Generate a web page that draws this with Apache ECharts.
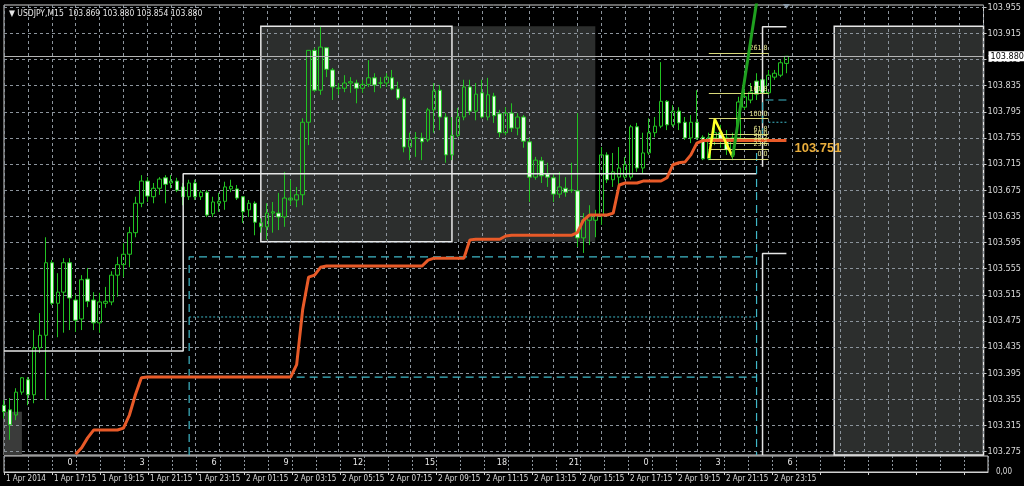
<!DOCTYPE html>
<html><head><meta charset="utf-8">
<script src="https://cdn.jsdelivr.net/npm/echarts@6/dist/echarts.min.js"></script>
<style>html,body{margin:0;padding:0;background:#000;}#c{width:1024px;height:486px;}</style>
</head><body><div id="c"></div>
<script>
const FONT = "'Liberation Sans Narrow','DejaVu Sans Condensed','Liberation Sans',sans-serif";
const SLOTS = 165;
const timeLabels = ['1 Apr 2014','1 Apr 17:15','1 Apr 19:15','1 Apr 21:15','1 Apr 23:15','2 Apr 01:15','2 Apr 03:15','2 Apr 05:15','2 Apr 07:15','2 Apr 09:15','2 Apr 11:15','2 Apr 13:15','2 Apr 15:15','2 Apr 17:15','2 Apr 19:15','2 Apr 21:15','2 Apr 23:15'];
const hourLabels = ['0','3','6','9','12','15','18','21','0','3','6'];
const priceTicks = [103.275,103.315,103.355,103.395,103.435,103.475,103.515,103.555,103.595,103.635,103.675,103.715,103.755,103.795,103.835,103.875,103.915,103.955];

const openP = [103.346,103.339,103.331,103.366,103.385,103.362,103.434,103.453,103.564,103.502,
103.519,103.564,103.507,103.478,103.539,103.507,103.472,103.502,103.504,103.545,
103.561,103.577,103.610,103.655,103.689,103.665,103.678,103.694,103.686,103.689,
103.680,103.665,103.686,103.665,103.672,103.639,103.655,103.658,103.677,103.677,
103.665,103.645,103.655,103.619,103.619,103.640,103.640,103.634,103.660,103.660,
103.668,103.779,103.889,103.828,103.893,103.859,103.831,103.831,103.839,103.839,
103.831,103.837,103.847,103.839,103.839,103.847,103.830,103.815,103.741,103.755,
103.755,103.752,103.798,103.828,103.787,103.729,103.759,103.787,103.833,103.796,
103.824,103.787,103.819,103.792,103.763,103.793,103.770,103.787,103.749,103.695,
103.720,103.700,103.694,103.669,103.678,103.675,103.674,103.602,103.629,103.629,
103.637,103.729,103.691,103.695,103.695,103.695,103.772,103.709,103.732,103.763,
103.773,103.811,103.775,103.796,103.779,103.755,103.779,103.756,103.723,103.755,
103.763,103.755,103.729,103.755,103.802,103.813,103.842,103.844,103.824,103.848,
103.851,103.869];
const closeP = [103.336,103.316,103.366,103.388,103.362,103.434,103.453,103.564,103.502,103.519,
103.564,103.510,103.476,103.538,103.505,103.472,103.504,103.505,103.545,103.561,
103.577,103.610,103.655,103.689,103.666,103.678,103.692,103.684,103.689,103.675,
103.665,103.686,103.665,103.672,103.637,103.657,103.658,103.680,103.681,103.663,
103.642,103.655,103.626,103.625,103.640,103.642,103.634,103.663,103.663,103.668,
103.779,103.889,103.828,103.894,103.860,103.833,103.831,103.839,103.841,103.831,
103.837,103.847,103.836,103.839,103.848,103.830,103.816,103.741,103.752,103.755,
103.749,103.798,103.827,103.787,103.729,103.759,103.787,103.833,103.796,103.822,
103.787,103.821,103.789,103.763,103.793,103.770,103.787,103.750,103.695,103.721,
103.697,103.695,103.669,103.680,103.672,103.675,103.602,103.629,103.636,103.637,
103.729,103.691,103.703,103.709,103.714,103.772,103.709,103.732,103.763,103.773,
103.811,103.775,103.796,103.778,103.755,103.779,103.755,103.723,103.756,103.763,
103.752,103.737,103.755,103.810,103.818,103.825,103.822,103.824,103.851,103.854,
103.870,103.880];
const lowP = [103.326,103.293,103.323,103.362,103.346,103.349,103.426,103.354,103.499,103.450,
103.457,103.461,103.458,103.461,103.496,103.461,103.457,103.495,103.499,103.512,
103.542,103.557,103.603,103.649,103.657,103.655,103.668,103.655,103.678,103.672,
103.652,103.660,103.660,103.660,103.634,103.634,103.642,103.645,103.672,103.660,
103.625,103.634,103.606,103.610,103.599,103.610,103.614,103.619,103.652,103.649,
103.652,103.744,103.825,103.821,103.848,103.813,103.821,103.825,103.824,103.808,
103.824,103.833,103.825,103.831,103.833,103.828,103.813,103.733,103.721,103.726,
103.721,103.749,103.763,103.767,103.717,103.721,103.756,103.782,103.790,103.782,
103.785,103.782,103.778,103.756,103.759,103.764,103.759,103.740,103.657,103.691,
103.686,103.680,103.657,103.663,103.665,103.671,103.588,103.579,103.591,103.603,
103.622,103.686,103.680,103.680,103.691,103.691,103.703,103.701,103.729,103.756,
103.770,103.767,103.772,103.767,103.752,103.747,103.752,103.721,103.721,103.744,
103.740,103.729,103.721,103.752,103.798,103.808,103.813,103.802,103.821,103.844,
103.848,103.854];
const highP = [103.354,103.357,103.372,103.389,103.389,103.461,103.487,103.603,103.568,103.548,
103.571,103.571,103.515,103.545,103.556,103.519,103.518,103.527,103.551,103.573,
103.594,103.619,103.665,103.698,103.695,103.686,103.695,103.698,103.698,103.694,
103.686,103.691,103.691,103.675,103.675,103.665,103.671,103.688,103.691,103.683,
103.665,103.660,103.658,103.632,103.655,103.657,103.671,103.703,103.691,103.680,
103.785,103.889,103.893,103.925,103.894,103.862,103.839,103.851,103.848,103.844,
103.844,103.874,103.854,103.848,103.854,103.859,103.841,103.818,103.763,103.764,
103.763,103.801,103.839,103.836,103.793,103.787,103.801,103.844,103.844,103.839,
103.844,103.847,103.824,103.798,103.802,103.808,103.793,103.790,103.755,103.726,
103.726,103.717,103.701,103.703,103.695,103.717,103.793,103.640,103.652,103.645,
103.741,103.733,103.732,103.741,103.726,103.775,103.778,103.763,103.785,103.787,
103.871,103.813,103.805,103.802,103.787,103.790,103.828,103.759,103.763,103.775,
103.775,103.767,103.763,103.818,103.828,103.839,103.854,103.854,103.859,103.859,
103.874,103.880];
const trailStop = [null,null,null,null,null,null,null,null,null,null,null,null,
103.271,103.281,103.296,103.308,103.308,103.308,103.308,103.308,103.311,103.331,103.362,103.388,
103.389,103.389,103.389,103.389,103.389,103.389,103.389,103.389,103.389,103.389,103.389,103.389,103.389,
103.389,103.389,103.389,103.389,103.389,103.389,103.389,103.389,103.389,103.389,103.389,103.389,
103.408,103.492,103.542,103.545,103.557,
103.559,103.559,103.559,103.559,103.559,103.559,103.559,103.559,103.559,103.559,103.559,103.559,103.559,103.559,103.559,103.559,103.559,
103.568,103.571,103.571,103.571,103.571,103.571,103.571,103.599,103.600,103.600,103.600,103.600,103.600,103.605,
103.606,103.606,103.606,103.606,103.606,103.606,103.606,103.606,103.606,103.606,103.606,
103.610,103.629,103.637,103.637,103.637,103.637,103.640,103.683,103.686,103.686,103.686,
103.689,103.689,103.689,103.689,103.694,103.714,103.717,103.718,103.729,103.747,
103.751,103.751,103.751,103.751,103.751,103.751,103.751,103.751,103.751,103.751,103.751,103.751,103.751,103.751,103.751];
const bidPrice = 103.880;
const fibNames = ['0.0','23.6','38.2','50.0','61.8','100.0','161.8','261.8'];
const fibPrices = [103.723,103.738,103.747,103.754,103.761,103.785,103.823,103.885];
const zigzag = [[118,103.724],[119,103.784],[122,103.726]];
const trendLine = [[122,103.726],[126,103.962]];
const whiteLines = [
  [[0,103.429],[30,103.429],[30,103.700],[126,103.700]],
  [[131,103.925],[127,103.925],[127,103.711]],
  [[131,103.578],[127,103.578],[127,103.2698]]
];
const cyanDashed = [
  [[31,103.2698],[31,103.573],[126,103.573]],
  [[49,103.389],[126,103.389]],
  [[126,103.732],[126,103.2698]],
  [[131,103.813],[127,103.813],[127,103.755]]
];
const cyanDotted = [
  [[31,103.481],[126,103.481]],
  [[131,103.779],[128,103.779]]
];
const grayZones = [[[43,103.926],[99,103.596]],[[0,103.336],[3,103.2698]]];
const framedZones = [[[43,103.926],[75,103.596],'rgba(0,0,0,0)'],[[139,103.926],[164,103.2698],'#2c2e2d']];

const categories = Array.from({length: SLOTS}, (_, i) => String(i));
const candles = openP.map((o, i) => [o, closeP[i], lowP[i], highP[i]]);

const markAreaData = grayZones.map(z => [
  {xAxis: z[0][0], yAxis: z[0][1], itemStyle: {color: z === grayZones[1] ? '#3a3b3a' : '#2c2e2d'}},
  {xAxis: z[1][0], yAxis: z[1][1]}
]).concat(framedZones.map(z => [
  {xAxis: z[0][0], yAxis: z[0][1], itemStyle: {color: z[2], borderColor: '#e8e8e8', borderWidth: 1.5}},
  {xAxis: z[1][0], yAxis: z[1][1]}
]));

function lineSeries(data, color, width, type, z) {
  return {type: 'line', xAxisIndex: 0, yAxisIndex: 0, data: data, symbol: 'none', silent: true,
    lineStyle: {color: color, width: width, type: type}, z: z, animation: false};
}

const series = [
  {
    type: 'candlestick', xAxisIndex: 0, yAxisIndex: 0, data: candles, barWidth: 4, z: 2,
    itemStyle: {color: 'rgba(0,0,0,0)', color0: '#e4ffe4', borderColor: '#22c322', borderColor0: '#22c322', borderColorDoji: '#22c322', borderWidth: 1},
    markArea: {silent: true, label: {show: false}, data: markAreaData},
    markLine: {silent: true, symbol: ['none', 'none'], animation: false,
      lineStyle: {color: '#b4b4b4', type: 'solid', width: 1},
      label: {show: true, position: 'end', formatter: bidPrice.toFixed(3), backgroundColor: '#ffffff', color: '#000000', fontSize: 9, fontFamily: FONT, padding: [1, 2, 0, 2], distance: 5},
      data: [{yAxis: bidPrice}]},
    markPoint: {silent: true, symbol: 'triangle', symbolRotate: 180, symbolSize: [7, 5], itemStyle: {color: '#8a9aa8'}, label: {show: false},
      data: [{coord: [131, 103.956]}]}
  }
];
whiteLines.forEach(d => series.push(lineSeries(d, '#e6e6e6', 1.5, 'solid', 3)));
cyanDashed.forEach(d => series.push(lineSeries(d, '#3fb8c8', 1.2, [8, 5], 3)));
cyanDotted.forEach(d => series.push(lineSeries(d, '#3fb8c8', 1, [2, 2], 3)));
series.push(Object.assign(lineSeries(trailStop, '#e85a28', 3, 'solid', 4), {
  endLabel: {show: true, formatter: '103.751', color: '#eaae3c', fontSize: 13, fontWeight: 'bold', fontFamily: "'Liberation Sans',sans-serif", distance: 8, offset: [0, 8]}
}));
series.push(Object.assign(lineSeries(zigzag, '#ffff28', 2.5, 'solid', 5), {
  markLine: {silent: true, symbol: ['none', 'none'], animation: false,
    lineStyle: {color: '#d8d87a', type: 'solid', width: 1},
    label: {show: true, position: 'insideEndTop', formatter: '{b}', color: '#e8e890', fontSize: 7, fontFamily: FONT, distance: 1},
    data: fibPrices.map((p, k) => [{coord: [118, p], name: fibNames[k]}, {coord: [128, p]}])}
}));
series.push(lineSeries(trendLine, '#1fa01f', 3, 'solid', 5));
series.push({type: 'line', xAxisIndex: 1, yAxisIndex: 1, data: [], silent: true});

const chart = echarts.init(document.getElementById('c'), null, {renderer: 'canvas'});
chart.setOption({
  backgroundColor: '#000000',
  animation: false,
  title: {text: '\u25BC USDJPY,M15  103.869 103.880 103.854 103.880', left: 4, top: 4,
    textStyle: {color: '#e6e6e6', fontSize: 8.5, fontWeight: 'normal', fontFamily: FONT}},
  grid: [
    {left: 4, top: 5, width: 984, height: 450, show: true, borderColor: '#d0d0d0', borderWidth: 1},
    {left: 4, top: 456, width: 984, height: 16, show: true, borderColor: '#d0d0d0', borderWidth: 1}
  ],
  xAxis: [
    {gridIndex: 0, type: 'category', data: categories, boundaryGap: false, z: 1.5,
      axisLine: {show: false}, axisTick: {show: false}, axisLabel: {show: false},
      splitLine: {show: true, interval: 3, lineStyle: {color: '#8c949c', type: [3, 3], width: 1}}},
    {gridIndex: 1, type: 'category', data: categories, boundaryGap: false, position: 'bottom',
      axisLine: {show: true, lineStyle: {color: '#d0d0d0'}},
      axisTick: {show: true, interval: 7, length: 3, lineStyle: {color: '#d0d0d0'}},
      axisLabel: {show: true, interval: 7, align: 'left', margin: 3, padding: [0, 0, 0, 2], color: '#dcdcdc', fontSize: 8, fontFamily: FONT,
        formatter: (v, i) => (i % 8 === 0 && timeLabels[i / 8]) ? timeLabels[i / 8] : ''},
      splitLine: {show: true, interval: 3, lineStyle: {color: '#8c949c', type: [2, 2], width: 1}}},
    {gridIndex: 1, type: 'category', data: categories, boundaryGap: false, position: 'top',
      axisLine: {show: false}, axisTick: {show: false}, splitLine: {show: false},
      axisLabel: {show: true, inside: true, margin: 2, color: '#e6e6e6', fontSize: 9, fontFamily: FONT,
        interval: (i) => i >= 11 && (i - 11) % 12 === 0,
        formatter: (v, i) => hourLabels[(i - 11) / 12] || ''}}
  ],
  yAxis: [
    {gridIndex: 0, type: 'value', position: 'right', min: 103.2698, max: 103.9584, z: 1.5,
      axisLine: {show: false},
      axisTick: {show: true, customValues: priceTicks, length: 3, lineStyle: {color: '#c8c8c8'}},
      axisLabel: {show: true, customValues: priceTicks, margin: 4, color: '#dcdcdc', fontSize: 9, fontFamily: FONT, formatter: v => v.toFixed(3)},
      splitLine: {show: true, lineStyle: {color: '#8c949c', type: [3, 3], width: 1}}},
    {gridIndex: 1, type: 'value', position: 'right', min: 0, max: 2,
      axisLine: {show: false}, axisTick: {show: false}, splitLine: {show: false},
      axisLabel: {show: true, customValues: [0], margin: 8, color: '#dcdcdc', fontSize: 8, fontFamily: FONT, formatter: () => '0,00'}}
  ],
  series: series
});
</script></body></html>
